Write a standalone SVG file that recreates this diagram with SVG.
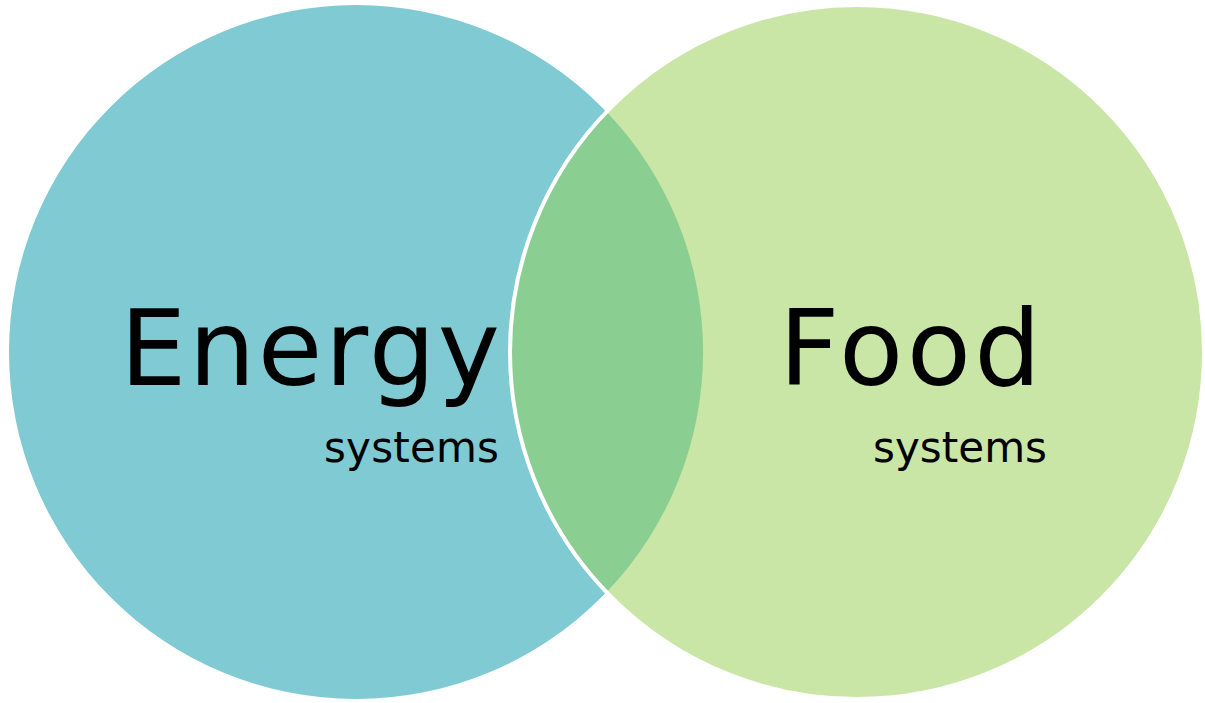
<svg xmlns="http://www.w3.org/2000/svg" width="1205" height="703" viewBox="0 0 1205 703">
<style>
.big{font-family:"DejaVu Sans","Liberation Sans",sans-serif;font-size:105px;fill:#000}
.small{font-family:"DejaVu Sans","Liberation Sans",sans-serif;font-size:42px;fill:#000}
</style>
<rect width="1205" height="703" fill="#fff"/>
<g id="energy">
<circle cx="356" cy="352" r="347" fill="#80CAD3"/>
</g>
<g id="food">
<circle cx="857" cy="352" r="347" fill="#C9E6A7"/>
</g>
<g id="overlap">
<path d="M606.5,111.8 A347,347 0 0 0 606.5,592.2 A347,347 0 0 0 606.5,111.8 Z" fill="#8BCE92"/>
<circle cx="857" cy="352" r="347" fill="none" stroke="#fff" stroke-width="4"/>
</g>
<g id="labels">
<text class="big" x="120" y="385" textLength="380" lengthAdjust="spacing">Energy</text>
<text class="small" x="324" y="462" textLength="175" lengthAdjust="spacing">systems</text>
<text class="big" x="779" y="385" textLength="262" lengthAdjust="spacing">Food</text>
<text class="small" x="873" y="462" textLength="174" lengthAdjust="spacing">systems</text>
</g>
</svg>
